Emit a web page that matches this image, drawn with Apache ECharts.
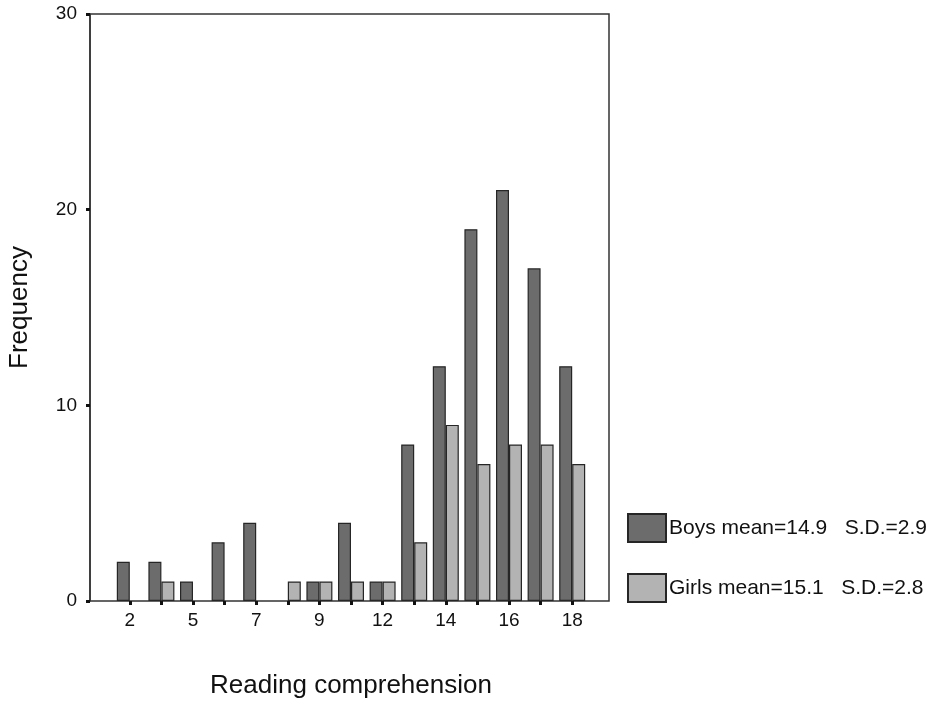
<!DOCTYPE html>
<html>
<head>
<meta charset="utf-8">
<script src="https://cdn.jsdelivr.net/npm/echarts@6/dist/echarts.min.js"></script>
<style>
  html, body { margin: 0; padding: 0; background: #ffffff; }
  #chart { width: 931px; height: 702px; }
</style>
</head>
<body>
<div id="chart"></div>
<script>
// reading comprehension scores (only every other one is labelled on the axis)
const scores = ["2", "4", "5", "6", "7", "8", "9", "10", "12", "13", "14", "15", "16", "17", "18"];
const boys  = [2, 2, 1, 3, 4, 0, 1, 4, 1, 8, 12, 19, 21, 17, 12];
const girls = [0, 1, 0, 0, 0, 1, 1, 1, 1, 3, 9, 7, 8, 8, 7];
const groupNames = ["Boys", "Girls"];
const groupMeans = ["14.9", "15.1"];
const groupSD = ["2.9", "2.8"];
const yTicks = [0, 10, 20, 30];

const font = "Liberation Sans, Arial, sans-serif";
const chart = echarts.init(document.getElementById("chart"));

// zero counts draw nothing (no flat outline)
function bars(arr) {
  return arr.map(function (v) { return v === 0 ? null : v; });
}

const option = {
  backgroundColor: "#ffffff",
  animation: false,
  textStyle: { fontFamily: font },
  grid: [
    { left: 114, right: 343, top: 14, bottom: 101, outerBoundsMode: "none", containLabel: false },
    // outer frame
    { left: 90, right: 322, top: 14, bottom: 101, outerBoundsMode: "none", show: true, borderColor: "#333333", borderWidth: 1.5 }
  ],
  legend: {
    orient: "vertical",
    left: 627,
    top: 513,
    padding: 0,
    itemWidth: 38,
    itemHeight: 28,
    itemGap: 30,
    icon: "rect",
    data: groupNames,
    formatter: function (name) {
      const i = groupNames.indexOf(name);
      return name + " mean=" + groupMeans[i] + "   S.D.=" + groupSD[i];
    },
    textStyle: { fontFamily: font, fontSize: 21, color: "#111111", padding: [0, 0, 0, -2] }
  },
  xAxis: [
    {
      type: "category",
      gridIndex: 0,
      data: scores,
      boundaryGap: true,
      name: "Reading comprehension",
      nameLocation: "middle",
      nameGap: 72,
      nameTextStyle: { fontFamily: font, fontSize: 26, color: "#111111" },
      axisLine: { show: false },
      axisTick: { show: true, alignWithLabel: true, interval: 0, length: 4, lineStyle: { color: "#111111", width: 3 } },
      axisLabel: { interval: 1, margin: 10, fontFamily: font, fontSize: 19, color: "#111111" },
      splitLine: { show: false }
    },
    { type: "value", gridIndex: 1, show: false, min: 0, max: 1 }
  ],
  yAxis: [
    {
      type: "value",
      gridIndex: 0,
      min: 0,
      max: 30,
      interval: 10,
      offset: 24,
      name: "Frequency",
      nameLocation: "middle",
      nameRotate: 90,
      nameGap: 57,
      nameTextStyle: { fontFamily: font, fontSize: 26, color: "#111111" },
      axisLine: { show: true, lineStyle: { color: "#333333", width: 1.5 } },
      axisTick: { show: true, length: 4, lineStyle: { color: "#111111", width: 3 } },
      axisLabel: {
        margin: 13,
        fontFamily: font,
        fontSize: 19,
        color: "#111111",
        formatter: function (v) { return yTicks.indexOf(v) >= 0 ? String(v) : ""; }
      },
      splitLine: { show: false }
    },
    { type: "value", gridIndex: 1, show: false, min: 0, max: 1 }
  ],
  series: [
    {
      name: groupNames[0],
      type: "bar",
      xAxisIndex: 0,
      yAxisIndex: 0,
      data: bars(boys),
      barWidth: 13,
      barGap: "0%",
      itemStyle: { color: "#6c6c6c", borderColor: "#262626", borderWidth: 1.2 }
    },
    {
      name: groupNames[1],
      type: "bar",
      xAxisIndex: 0,
      yAxisIndex: 0,
      data: bars(girls),
      barWidth: 13,
      barGap: "0%",
      itemStyle: { color: "#b3b3b3", borderColor: "#262626", borderWidth: 1.2 }
    }
  ]
};

chart.setOption(option);
</script>
</body>
</html>
